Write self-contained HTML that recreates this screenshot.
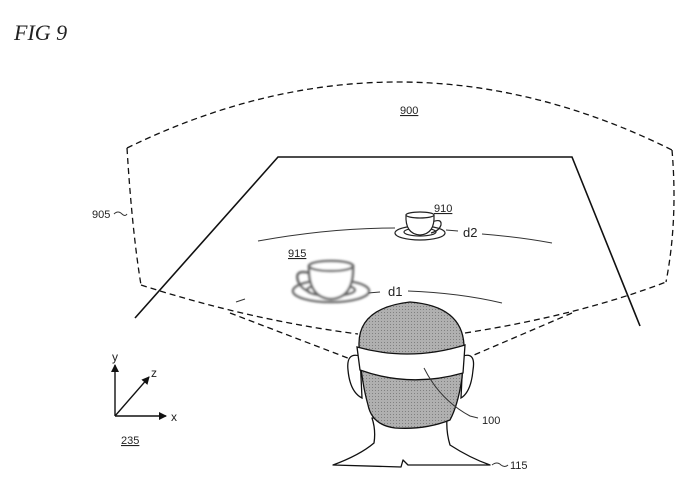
<!DOCTYPE html>
<html><head><style>
body{margin:0;background:#fff;width:700px;height:501px;overflow:hidden}
svg{display:block}
text{font-family:"Liberation Sans",sans-serif;fill:#222}
</style></head><body>
<svg width="700" height="501" viewBox="0 0 700 501" xmlns="http://www.w3.org/2000/svg">
<defs>
<marker id="ar" markerWidth="8" markerHeight="8" refX="7" refY="4" orient="auto" markerUnits="userSpaceOnUse"><path d="M0,0 L8,4 L0,8 z" fill="#111"/></marker>
<filter id="bl"><feGaussianBlur stdDeviation="1.1"/></filter>
<pattern id="dot" width="3" height="3" patternUnits="userSpaceOnUse"><rect width="3" height="3" fill="#b0b0b0"/><rect width="1" height="1" fill="#808080"/></pattern>
</defs>
<text x="14" y="40" font-size="22" style="font-family:'Liberation Serif',serif;font-style:italic">FIG 9</text>

<!-- field of view dashed -->
<g fill="none" stroke="#111" stroke-width="1.3" stroke-dasharray="6,4">
<path d="M127,148 Q400,15 672,150"/>
<path d="M127,148 Q132,230 141,285"/>
<path d="M672,150 Q678,220 666,282"/>
<path d="M141,285 Q250,320 358,334"/>
<path d="M465,333 Q580,315 666,282"/>
<path d="M230,313 L353,360"/>
<path d="M572,313 L467,358"/>
</g>
<!-- trapezoid -->
<path d="M135,318 L278,157 L572,157 L640,326" fill="none" stroke="#111" stroke-width="1.6"/>

<!-- distance arcs -->
<g fill="none" stroke="#333" stroke-width="1">
<path d="M258,241 Q330,228 395,228"/>
<path d="M446,230 L458,231"/>
<path d="M482,234 Q520,237 552,243"/>
<path d="M236,302 L245,299"/>
<path d="M368,293 L380,292"/>
<path d="M408,291 Q460,293 502,303"/>
</g>
<text x="463" y="237" font-size="13">d2</text>
<text x="388" y="296" font-size="13">d1</text>

<!-- cup 910 -->
<g fill="#fff" stroke="#222" stroke-width="1.2">
<ellipse cx="420" cy="233" rx="25" ry="7"/>
<ellipse cx="420" cy="232" rx="16" ry="4"/>
<path d="M432,222 q10,-4 9,3 q-2,6 -10,8" fill="none"/>
<path d="M406,215 Q405,234 420,235 Q435,234 434,215 Z"/>
<ellipse cx="420" cy="215" rx="14" ry="3"/>
</g>
<text x="434" y="212" font-size="11" text-decoration="underline">910</text>

<!-- cup 915 blurred -->
<g fill="#fff" stroke="#666" stroke-width="2.5" filter="url(#bl)">
<ellipse cx="331" cy="291" rx="38" ry="11"/>
<ellipse cx="331" cy="290" rx="24" ry="6"/>
<path d="M310,273 q-16,-4 -12,8 q3,8 12,11" fill="none"/>
<path d="M309,266 Q308,298 331,299 Q354,298 353,266 Z"/>
<ellipse cx="331" cy="266" rx="22" ry="5"/>
</g>
<text x="288" y="257" font-size="11" text-decoration="underline">915</text>

<!-- head -->
<g stroke="#111" stroke-width="1.3">
<path d="M333,465 Q360,455 374,443 Q376,430 372,418 L447,418 Q446,432 450,445 Q470,458 490,465 L408,465 L403,460 L401,467 L333,465 Z" fill="#fff" stroke-linejoin="round"/>
<path d="M360,356 Q346,352 348,370 Q350,392 362,398 Z" fill="#fff"/>
<path d="M463,356 Q476,352 473,370 Q471,392 461,398 Z" fill="#fff"/>
<path d="M359,345 Q358,308 410,302 Q462,306 464,345 L462,378 Q458,405 450,420 Q425,430 395,428 Q372,425 368,405 Q361,380 359,345 Z" fill="url(#dot)"/>
<path d="M357,347 Q410,362 465,345 L463,373 Q410,388 360,370 Z" fill="#fff"/>
</g>
<path d="M424,368 Q440,400 470,416 L478,418" fill="none" stroke="#333" stroke-width="1"/>
<text x="482" y="424" font-size="11">100</text>
<path d="M492,465 q5,-4 9,0 q4,3 7,0" fill="none" stroke="#333" stroke-width="1"/>
<text x="510" y="469" font-size="11">115</text>

<!-- labels -->
<text x="400" y="114" font-size="11" text-decoration="underline">900</text>
<text x="92" y="218" font-size="11">905</text>
<path d="M114,214 q4,-4 8,0 q3,3 5,0" fill="none" stroke="#333" stroke-width="1"/>

<!-- axes -->
<g stroke="#111" stroke-width="1.4" fill="none">
<line x1="115" y1="416" x2="115" y2="365" marker-end="url(#ar)"/>
<line x1="115" y1="416" x2="166" y2="416" marker-end="url(#ar)"/>
<line x1="115" y1="416" x2="149" y2="377" marker-end="url(#ar)"/>
</g>
<text x="112" y="361" font-size="12">y</text>
<text x="151" y="377" font-size="12">z</text>
<text x="171" y="421" font-size="12">x</text>
<text x="121" y="444" font-size="11" text-decoration="underline">235</text>
</svg>
</body></html>
